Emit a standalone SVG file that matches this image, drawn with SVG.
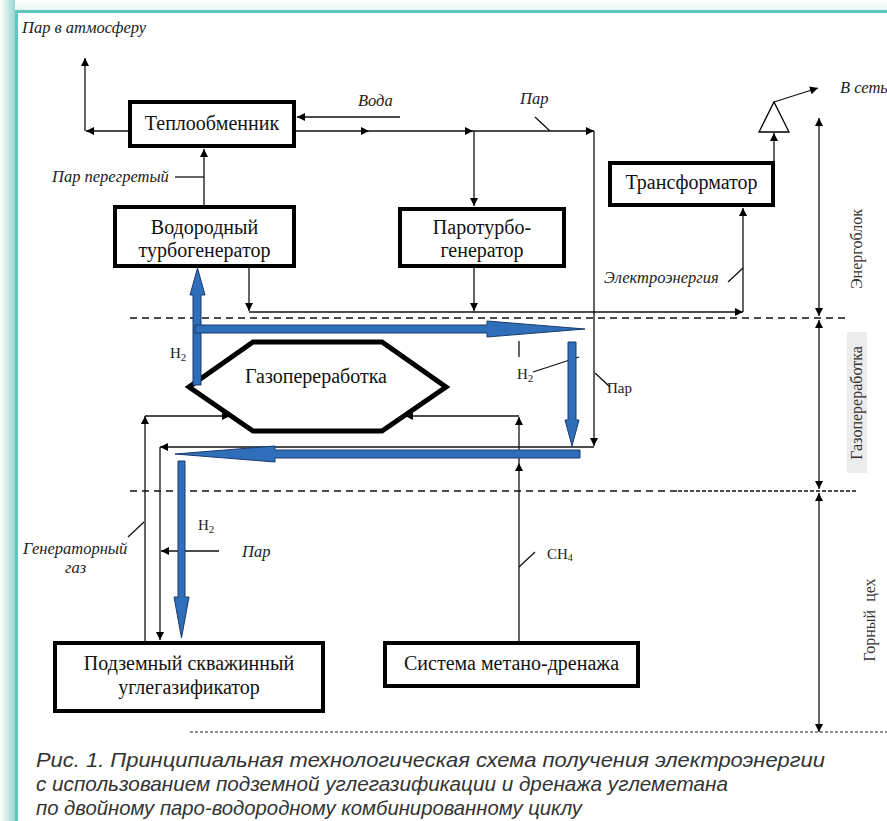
<svg xmlns="http://www.w3.org/2000/svg" width="887" height="821" viewBox="0 0 887 821">
<style>
.box{fill:#fff;stroke:#000;stroke-width:4}
.hex{fill:#fff;stroke:#000;stroke-width:5}
.t{font-family:'Liberation Serif',serif;font-size:20px;fill:#111;text-anchor:middle}
.it{font-family:'Liberation Serif',serif;font-style:italic;font-size:16.5px;fill:#222}
.rm{font-family:'Liberation Serif',serif;font-size:15px;fill:#222}
.side{font-family:'Liberation Serif',serif;font-size:16px;fill:#333;text-anchor:middle}
.ln{fill:none;stroke:#111;stroke-width:1.3}
.ar{fill:none;stroke:#111;stroke-width:1.3;marker-end:url(#ah)}
.dim{fill:none;stroke:#111;stroke-width:1.3;marker-start:url(#ah);marker-end:url(#ah)}
.dash{fill:none;stroke:#111;stroke-width:1.3;stroke-dasharray:7 5}
.blue{fill:#2f6fba;stroke:#1b3a6e;stroke-width:1}
.cap{font-family:'Liberation Sans',Arial,sans-serif;font-style:italic;font-size:21px;fill:#333}
</style>
<defs>
<marker id="ah" viewBox="0 0 10 10" refX="10" refY="5" markerUnits="userSpaceOnUse" markerWidth="9" markerHeight="8" orient="auto-start-reverse">
<path d="M0,0 L10,5 L0,10 z" fill="#000"/>
</marker>
<linearGradient id="lg" x1="0" y1="0" x2="1" y2="0">
<stop offset="0" stop-color="#ffffff"/>
<stop offset="1" stop-color="#9ad6d0"/>
</linearGradient>
<linearGradient id="tg" x1="0" y1="0" x2="0" y2="1">
<stop offset="0" stop-color="#ffffff"/>
<stop offset="1" stop-color="#e3f4f2"/>
</linearGradient>
</defs>
<rect x="0" y="0" width="887" height="821" fill="#fff"/>
<rect x="0" y="0" width="887" height="11" fill="url(#tg)"/>
<rect x="0" y="0" width="15" height="821" fill="url(#lg)"/>
<path d="M16.5,821 V11.5 H887" fill="none" stroke="#5ec7bf" stroke-width="3"/>

<g id="dashes">
<path class="dash" d="M130,318 H850"/>
<path class="dash" d="M130,491 H678"/>
<path d="M678,491 H858" fill="none" stroke="#111" stroke-width="1.3" stroke-dasharray="4 2"/>
<path d="M190,732 H887" fill="none" stroke="#222" stroke-width="1" stroke-dasharray="3 2"/>
</g>

<g id="connectors">
<path class="ar" d="M128,131 H86"/>
<path class="ar" d="M85,131 V58"/>
<path class="ar" d="M400,117 H297"/>
<path class="ar" d="M296,131 H369"/>
<path class="ar" d="M369,131 H473"/>
<path class="ar" d="M473,131 H594"/>
<path class="ar" d="M474,131 V206"/>
<path class="ar" d="M594,131 V446"/>
<path class="ar" d="M594,447 H160"/>
<path class="ar" d="M160,447 V640"/>
<path class="ar" d="M219,551 H161"/>
<path class="ar" d="M145,641 V416"/>
<path class="ar" d="M145,416 H230"/>
<path class="ar" d="M519,641 V463"/>
<path class="ar" d="M519,463 V417"/>
<path class="ar" d="M519,416 H405"/>
<path class="ar" d="M204,205 V149"/>
<path class="ln" d="M175,177 H204"/>
<path class="ar" d="M249,268 V311"/>
<path class="ar" d="M474,268 V311"/>
<path class="ar" d="M249,312 H743"/>
<path class="ar" d="M743,312 V208"/>
<path class="ar" d="M774,161 V133"/>
<path class="ar" d="M774,102 L818,88"/>
<path class="ln" d="M728,282 L743,268"/>
<path class="ln" d="M535,117 L550,131"/>
<path class="ln" d="M595,373 L610,387"/>
<path class="ln" d="M519,341 V357"/>
<path class="ln" d="M533,372 L579,357"/>
<path class="ln" d="M128,537 L144,522"/>
<path class="ln" d="M519,567 L535,552"/>
<path class="dim" d="M819,118 V316"/>
<path class="dim" d="M819,320 V489"/>
<path class="dim" d="M819,493 V732"/>
</g>

<g id="n-teplo"><rect class="box" x="130" y="102" width="164" height="44"/><text class="t" x="212" y="130">Теплообменник</text></g>
<g id="n-h2turbo"><rect class="box" x="115" y="207" width="179" height="59"/><text class="t" x="204.5" y="234">Водородный</text><text class="t" x="204.5" y="257">турбогенератор</text></g>
<g id="n-parturbo"><rect class="box" x="400" y="209" width="164" height="57"/><text class="t" x="482" y="234">Паротурбо-</text><text class="t" x="482" y="257">генератор</text></g>
<g id="n-trans"><rect class="box" x="610" y="163" width="163" height="42"/><text class="t" x="691.5" y="189">Трансформатор</text></g>
<g id="n-triangle"><polygon points="759,132 789,132 774,102" fill="#fff" stroke="#000" stroke-width="1.3"/></g>
<g id="n-gas"><polygon class="hex" points="253,342 382,342 446,387 382,431 253,431 189,387"/><text class="t" x="316" y="383">Газопереработка</text></g>
<g id="n-ugl"><rect class="box" x="55" y="643" width="268" height="68"/><text class="t" x="189" y="670">Подземный скважинный</text><text class="t" x="189" y="694">углегазификатор</text></g>
<g id="n-metan"><rect class="box" x="385" y="643" width="253" height="43"/><text class="t" x="511.5" y="670">Система метано-дренажа</text></g>

<g id="blue-arrows">
<polygon class="blue" points="193,385 193,295 190,295 197.5,268 205,295 201,295 201,385"/>
<polygon class="blue" points="195,325 487,325 487,321 585,329 487,337 487,333 195,333"/>
<polygon class="blue" points="568,342 576,342 576,420 579,420 572,446 565,420 568,420"/>
<polygon class="blue" points="580,450 580,458 275,458 275,462 175,454 275,446 275,450"/>
<polygon class="blue" points="178,461 185,461 185,597 189,597 181.5,638 174,597 178,597"/>
</g>

<g id="labels">
<text class="it" x="22" y="33">Пар в атмосферу</text>
<text class="it" x="358" y="106">Вода</text>
<text class="it" x="520" y="104">Пар</text>
<text class="it" x="840" y="93">В сеть</text>
<text class="it" x="52" y="182">Пар перегретый</text>
<text class="it" x="604" y="283">Электроэнергия</text>
<text class="it" x="23" y="554">Генераторный</text>
<text class="it" x="65" y="573">газ</text>
<text class="it" x="242" y="557">Пар</text>
<text class="rm" x="607" y="393" font-size="16">Пар</text>
<text class="rm" x="170" y="358" font-size="16">H<tspan font-size="11" dy="3">2</tspan></text>
<text class="rm" x="517" y="379" font-size="16">H<tspan font-size="11" dy="3">2</tspan></text>
<text class="rm" x="198" y="530" font-size="16">H<tspan font-size="11" dy="3">2</tspan></text>
<text class="rm" x="547" y="559" font-size="15">CH<tspan font-size="10" dy="2">4</tspan></text>
<text class="side" transform="translate(862,249) rotate(-90)">Энергоблок</text>
<rect x="847" y="332" width="20" height="141" fill="#ececec"/>
<text class="side" transform="translate(862,403) rotate(-90)">Газопереработка</text>
<text class="side" transform="translate(875,620) rotate(-90)" xml:space="preserve">Горный  цех</text>
</g>

<g id="caption">
<text class="cap" x="36" y="767" textLength="789" lengthAdjust="spacingAndGlyphs">Рис. 1. Принципиальная технологическая схема получения электроэнергии</text>
<text class="cap" x="36" y="791" textLength="692" lengthAdjust="spacingAndGlyphs">с использованием подземной углегазификации и дренажа углеметана</text>
<text class="cap" x="36" y="815" textLength="546" lengthAdjust="spacingAndGlyphs">по двойному паро-водородному комбинированному циклу</text>
</g>
</svg>
